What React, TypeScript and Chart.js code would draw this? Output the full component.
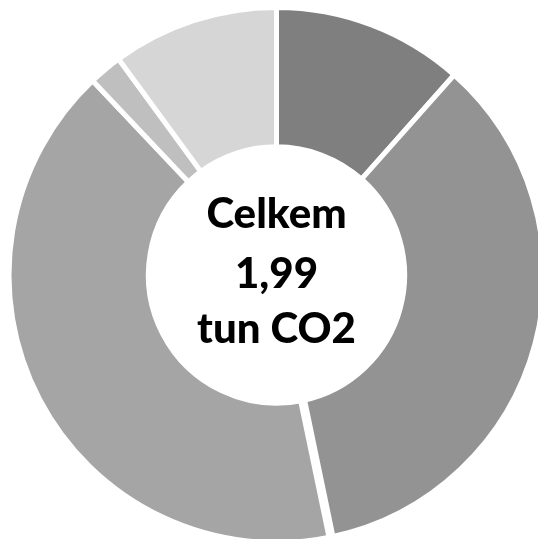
import React, { useEffect, useRef } from "react";
import { Chart, registerables } from "chart.js";

Chart.register(...registerables);

const categories = ["Kategorie A", "Kategorie B", "Kategorie C", "Kategorie D", "Kategorie E"];
const values = [0.23, 0.7, 0.82, 0.04, 0.2];
const colors = ["#7f7f7f", "#939393", "#a5a5a5", "#bfbfbf", "#d6d6d6"];
const centerLines = ["Celkem", "1,99", "tun CO2"];

const centerTextPlugin = {
  id: "centerText",
  afterDatasetsDraw(chart: any) {
    // widen the gap after the second segment, as in the reference
    const meta = chart.getDatasetMeta(0);
    const arc = meta.data[1];
    if (!arc) return;
    const { x, y, endAngle, innerRadius, outerRadius } = arc.getProps(
      ["x", "y", "endAngle", "innerRadius", "outerRadius"],
      true
    );
    const ctx = chart.ctx;
    ctx.save();
    ctx.strokeStyle = "#ffffff";
    ctx.lineWidth = 9;
    ctx.beginPath();
    ctx.moveTo(x + Math.cos(endAngle) * (innerRadius - 2), y + Math.sin(endAngle) * (innerRadius - 2));
    ctx.lineTo(x + Math.cos(endAngle) * (outerRadius + 2), y + Math.sin(endAngle) * (outerRadius + 2));
    ctx.stroke();
    ctx.restore();
  },
  afterDraw(chart: any) {
    const { ctx, chartArea } = chart;
    const cx = (chartArea.left + chartArea.right) / 2;
    const cy = (chartArea.top + chartArea.bottom) / 2;
    ctx.save();
    ctx.fillStyle = "#000000";
    ctx.font = "900 42px Lato";
    ctx.textAlign = "center";
    ctx.textBaseline = "alphabetic";
    const baselines = [-47, 13, 68];
    centerLines.forEach((line, i) => {
      ctx.fillText(line, cx, cy + baselines[i]);
    });
    ctx.restore();
  },
};

export default function App() {
  const ref = useRef<HTMLCanvasElement | null>(null);
  useEffect(() => {
    if (!ref.current) return;
    const chart = new Chart(ref.current, {
      type: "doughnut",
      data: {
        labels: categories,
        datasets: [
          {
            data: values,
            backgroundColor: colors,
            borderColor: "#ffffff",
            borderWidth: 5,
          },
        ],
      },
      options: {
        responsive: false,
        animation: false,
        cutout: "47.9%",
        layout: { padding: 5 },
        plugins: {
          legend: { display: false },
          tooltip: { enabled: false },
        },
      },
      plugins: [centerTextPlugin],
    });
    return () => chart.destroy();
  }, []);
  return (
    <div style={{ position: "fixed", left: 0, top: 0, width: 538, height: 539, overflow: "hidden", background: "#ffffff" }}>
      <canvas ref={ref} width={553} height={550} style={{ position: "absolute", left: 0, top: 0, width: 553, height: 550 }} />
    </div>
  );
}
